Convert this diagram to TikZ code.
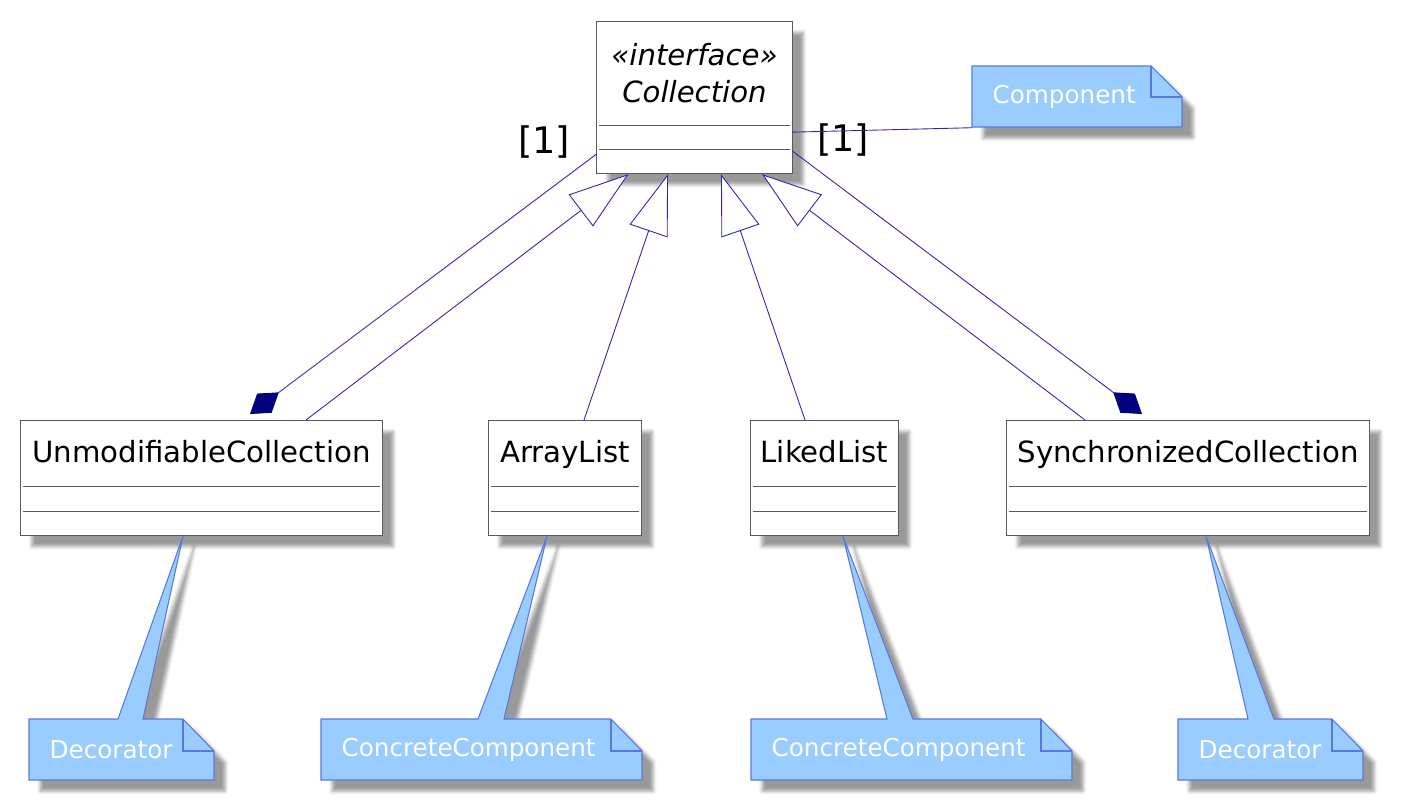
\documentclass[tikz,border=0pt]{standalone}
\usepackage{fontspec}
\setmainfont{DejaVu Sans}
\usetikzlibrary{arrows.meta,positioning,calc,shadows.blur}
\definecolor{linkblue}{RGB}{40,40,170}
\definecolor{darknavy}{RGB}{0,0,128}
\definecolor{boxgray}{RGB}{90,90,90}
\definecolor{notefill}{RGB}{153,204,255}
\definecolor{noteedge}{RGB}{90,120,220}
\tikzset{
  softshadow/.style={blur shadow={shadow xshift=0.11cm, shadow yshift=-0.11cm,
                     shadow blur radius=0.035cm, shadow opacity=40}},
  classbox/.style={draw=boxgray, fill=white, line width=0.3pt, inner sep=0pt,
                   text height=0.42cm, text depth=0.73cm, anchor=north,
                   font=\fontsize{8.3}{10.5}\selectfont, softshadow},
  sepline/.style={boxgray, line width=0.3pt},
  noteshape/.style={draw=noteedge, fill=notefill, line width=0.3pt, softshadow},
  foldline/.style={noteedge, line width=0.3pt},
  notetext/.style={inner xsep=0.2cm, inner ysep=0pt, minimum height=0.61cm, anchor=west,
                   text=white, font=\fontsize{7.0}{8.5}\selectfont},
  inherit/.style={linkblue, line width=0.25pt,
                  -{Triangle[open, fill=white, length=0.6cm, width=0.4cm]}},
  compose/.style={linkblue, line width=0.25pt,
                  -{Diamond[fill=darknavy, color=darknavy, length=0.36cm, width=0.24cm]}},
  notelink/.style={linkblue, line width=0.25pt},
  mult/.style={font=\fontsize{10.4}{12}\selectfont},
}
\begin{document}
\begin{tikzpicture}[x=0.01cm, y=-0.01cm]
\useasboundingbox (0,0) rectangle (1409,800);

% class boxes
\node[classbox, minimum width=1.95cm, text height=0.44cm, text depth=1.08cm] (coll) at (694.5,21)
 {\itshape\begin{tabular}[t]{@{}c@{}}«interface»\\Collection\end{tabular}};
\node[classbox, minimum width=3.61cm] (unmod) at (201.5,420) {UnmodifiableCollection};
\node[classbox, minimum width=1.52cm] (arr) at (565,420) {ArrayList};
\node[classbox, minimum width=1.47cm] (liked) at (824.5,420) {LikedList};
\node[classbox, minimum width=3.62cm] (sync) at (1188,420) {SynchronizedCollection};

\draw[sepline] ($(coll.south west)+(3,-49)$) -- ($(coll.south east)+(-3,-49)$);
\draw[sepline] ($(coll.south west)+(3,-25)$) -- ($(coll.south east)+(-3,-25)$);
\draw[sepline] ($(unmod.south west)+(3,-50)$) -- ($(unmod.south east)+(-3,-50)$);
\draw[sepline] ($(unmod.south west)+(3,-25)$) -- ($(unmod.south east)+(-3,-25)$);
\draw[sepline] ($(arr.south west)+(3,-50)$) -- ($(arr.south east)+(-3,-50)$);
\draw[sepline] ($(arr.south west)+(3,-25)$) -- ($(arr.south east)+(-3,-25)$);
\draw[sepline] ($(liked.south west)+(3,-50)$) -- ($(liked.south east)+(-3,-50)$);
\draw[sepline] ($(liked.south west)+(3,-25)$) -- ($(liked.south east)+(-3,-25)$);
\draw[sepline] ($(sync.south west)+(3,-50)$) -- ($(sync.south east)+(-3,-50)$);
\draw[sepline] ($(sync.south west)+(3,-25)$) -- ($(sync.south east)+(-3,-25)$);

% inheritance
\draw[inherit] ($(unmod.north)+(104.5,0)$) -- ($(coll.south)+(-66,0)$);
\draw[inherit] ($(arr.north)+(19,0)$) -- ($(coll.south)+(-26.5,0)$);
\draw[inherit] ($(liked.north)+(-19.5,0)$) -- ($(coll.south)+(26.5,0)$);
\draw[inherit] ($(sync.north)+(-103,0)$) -- ($(coll.south)+(67.5,0)$);

% composition
\draw[compose] ($(coll.south west)+(0,-20)$) -- ($(unmod.north)+(48.5,-6)$);
\draw[compose] ($(coll.south east)+(0,-23)$) -- ($(sync.north)+(-46,-6)$);
\node[mult] (multl) at (544,142) {[1]};
\node[mult] (multr) at (843,140) {[1]};

% notes
\draw[noteshape] (972,66) -- (1151,66) -- (1182,97) -- (1182,127) -- (972,127) -- cycle;
\draw[foldline] (1151,66) |- (1182,97);
\node[notetext] (comp) at (972,96.5) {Component};
\draw[notelink] ($(coll.south east)+(0,-42)$) -- (comp.south west);

\draw[noteshape] (29,719) -- (118,719) -- ($(unmod.south)+(-18.5,0)$) -- (143,719)
  -- (183,719) -- (214,751) -- (214,780) -- (29,780) -- cycle;
\draw[foldline] (183,719) |- (214,751);
\node[notetext] (deco1) at (29,749.5) {Decorator};

\draw[noteshape] (321,719) -- (478,719) -- ($(arr.south)+(-18,0)$) -- (504,719)
  -- (611,719) -- (642,751) -- (642,780) -- (321,780) -- cycle;
\draw[foldline] (611,719) |- (642,751);
\node[notetext] (conc1) at (321,749.5) {ConcreteComponent};

\draw[noteshape] (751,719) -- (887,719) -- ($(liked.south)+(18.5,0)$) -- (913,719)
  -- (1041,719) -- (1072,751) -- (1072,780) -- (751,780) -- cycle;
\draw[foldline] (1041,719) |- (1072,751);
\node[notetext] (conc2) at (751,749.5) {ConcreteComponent};

\draw[noteshape] (1178,719) -- (1248,719) -- ($(sync.south)+(18,0)$) -- (1274,719)
  -- (1332,719) -- (1363,751) -- (1363,780) -- (1178,780) -- cycle;
\draw[foldline] (1332,719) |- (1363,751);
\node[notetext] (deco2) at (1178,749.5) {Decorator};
\end{tikzpicture}
\end{document}
